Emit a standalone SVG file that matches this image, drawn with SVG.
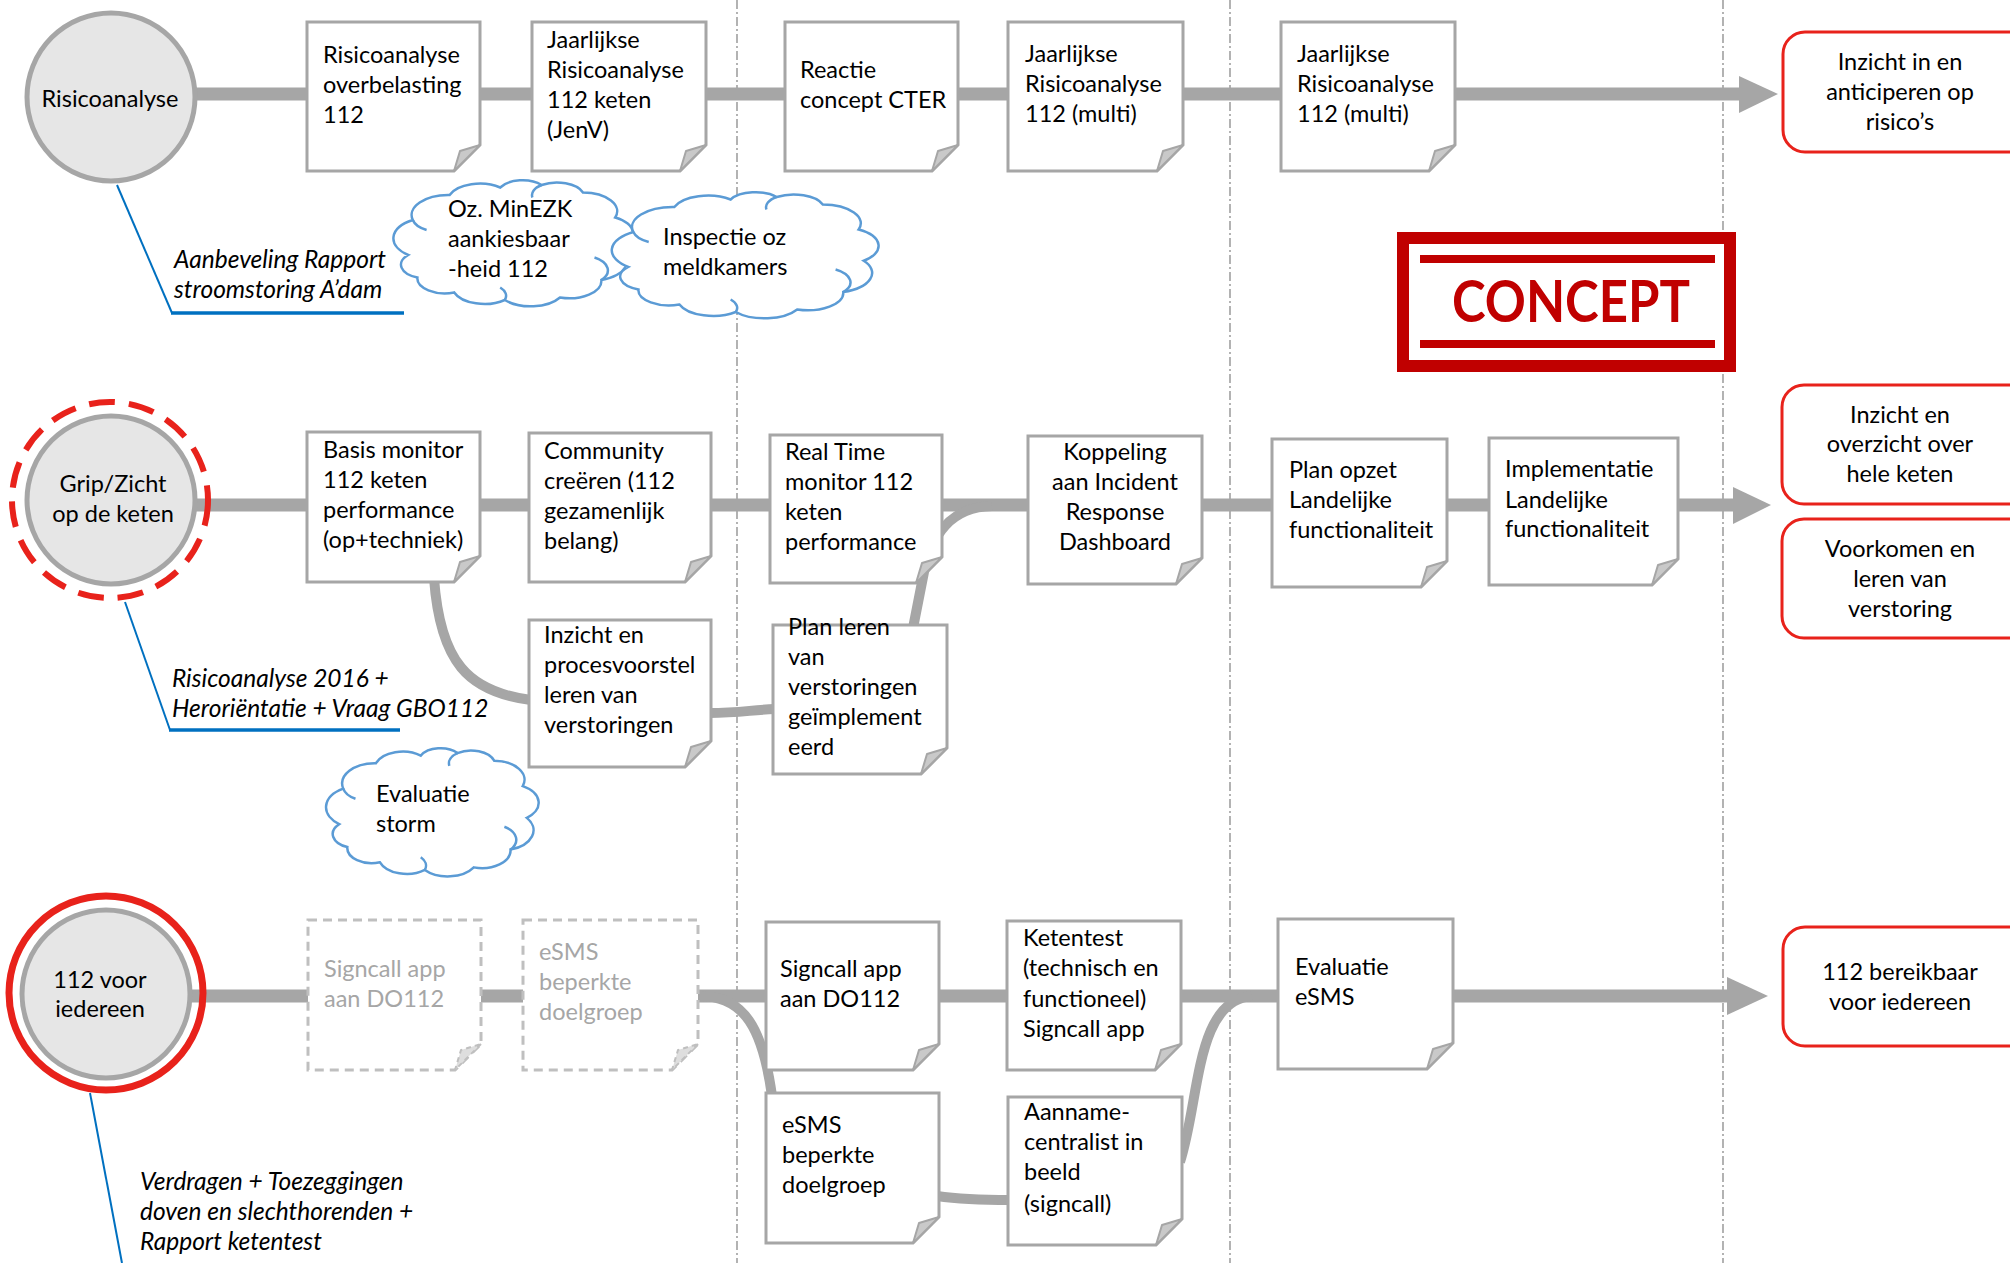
<svg xmlns="http://www.w3.org/2000/svg" xmlns:xlink="http://www.w3.org/1999/xlink" width="2010" height="1263" viewBox="0 0 2010 1263">
<style>
.bg{fill:#fff}
.sep{stroke:#808080;stroke-width:1.2;stroke-dasharray:9 3 2 3;fill:none}
.box{fill:#fff;stroke:#a6a6a6;stroke-width:3}
.fold{fill:#c9c9c9;stroke:#a6a6a6;stroke-width:2;stroke-linejoin:round}
.ghost{fill:#fff;stroke:#bfbfbf;stroke-width:3;stroke-dasharray:9 6}
.gfold{fill:#dedede;stroke:#bfbfbf;stroke-width:2;stroke-dasharray:5 4}
.conn{stroke:#a6a6a6;stroke-width:13;fill:none}
.curve{stroke:#a6a6a6;stroke-width:10;fill:none}
.head{fill:#a6a6a6}
.goal{fill:#fff;stroke:#e8221b;stroke-width:3}
.circ{fill:#e6e6e6;stroke:#a6a6a6;stroke-width:5}
.cloud{fill:#fff;stroke:#5b9bd5;stroke-width:2.5}
.lead{stroke:#0070c0;stroke-width:2;fill:none}
.leadh{stroke:#0070c0;stroke-width:3.5;fill:none}
text{font-family:Lato,"Noto Sans","Liberation Sans",sans-serif;font-size:23.5px;fill:#000}
.c{text-anchor:middle}
.g{fill:#a6a6a6}
.ann{font-style:italic;font-size:24.5px}
.concept{font-weight:700;font-size:58px;fill:#c00000}
</style>
<defs>
<path id="cloudp" vector-effect="non-scaling-stroke" d="M 4 60 A 17 17 0 0 1 6 32 A 16 16 0 0 1 22 12 A 14 14 0 0 1 44 6 A 11 11 0 0 1 62 4 A 12 12 0 0 1 80 10 A 15 15 0 0 1 94 30 A 15 15 0 0 1 96 55 A 16 16 0 0 1 88 80 A 14 14 0 0 1 70 94 A 15 15 0 0 1 46 96 A 14 14 0 0 1 24 90 A 12 12 0 0 1 8 78 A 11 11 0 0 1 4 60 Z"/>
<path id="crease" vector-effect="non-scaling-stroke" fill="none" d="M 85 62 A 12 12 0 0 1 88 80 M 6 32 A 12 12 0 0 0 12 40 M 62 4 A 10 10 0 0 0 58 14 M 46 96 A 10 10 0 0 0 44 86"/>
</defs>
<rect class="bg" x="0" y="0" width="2010" height="1263"/>

<g id="separators">
<line class="sep" x1="737" y1="0" x2="737" y2="1263"/>
<line class="sep" x1="1230" y1="0" x2="1230" y2="1263"/>
<line class="sep" x1="1723" y1="0" x2="1723" y2="1263"/>
</g>

<g id="connectors">
<line class="conn" x1="190" y1="94" x2="1742" y2="94"/>
<polygon class="head" points="1739,76 1778,94 1739,113"/>
<line class="conn" x1="190" y1="505" x2="1736" y2="505"/>
<polygon class="head" points="1733,487 1771,505 1733,524"/>
<line class="conn" x1="190" y1="996" x2="1730" y2="996"/>
<polygon class="head" points="1727,977 1768,996 1727,1015"/>
<path class="curve" d="M 434 578 C 440 662 468 692 531 700"/>
<path class="curve" d="M 709 713 C 740 713 750 710 775 709"/>
<path class="curve" d="M 913 628 L 924 572 C 932 535 950 507 992 506"/>
<path class="curve" d="M 700 996 C 745 996 763 1030 772 1096"/>
<path class="curve" d="M 937 1196 C 965 1200 990 1200 1010 1200"/>
<path class="curve" d="M 1180 1162 C 1200 1100 1195 1000 1252 996"/>
</g>

<g id="leaders">
<polyline class="lead" points="117,185 172,313"/>
<line class="leadh" x1="171" y1="313" x2="404" y2="313"/>
<polyline class="lead" points="125,602 170,730"/>
<line class="leadh" x1="169" y1="730" x2="400" y2="730"/>
<polyline class="lead" points="90,1093 122,1263"/>
</g>

<g id="n-risicoanalyse">
<circle class="circ" cx="111" cy="97" r="84"/>
<text class="c" x="110" y="107">Risicoanalyse</text>
</g>
<g id="n-grip">
<circle class="circ" cx="111" cy="500" r="84"/>
<circle cx="110" cy="500" r="98" fill="none" stroke="#e8221b" stroke-width="6" stroke-dasharray="26 14"/>
<text class="c" x="113" y="492">Grip/Zicht</text>
<text class="c" x="113" y="522">op de keten</text>
</g>
<g id="n-112voor">
<circle class="circ" cx="106" cy="994" r="84"/>
<circle cx="106" cy="993" r="97" fill="none" stroke="#e8221b" stroke-width="7"/>
<text class="c" x="100" y="988">112 voor</text>
<text class="c" x="100" y="1017">iedereen</text>
</g>

<g id="n-t1">
<path class="box" d="M307 22 H480 V145 L454 171 H307 Z"/><path class="fold" d="M480 145 L454 171 L460 151 Z"/>
<text x="323" y="63">Risicoanalyse</text><text x="323" y="93">overbelasting</text><text x="323" y="123">112</text>
</g>
<g id="n-t2">
<path class="box" d="M532 22 H706 V145 L680 171 H532 Z"/><path class="fold" d="M706 145 L680 171 L686 151 Z"/>
<text x="547" y="48">Jaarlijkse</text><text x="547" y="78">Risicoanalyse</text><text x="547" y="108">112 keten</text><text x="547" y="138">(JenV)</text>
</g>
<g id="n-t3">
<path class="box" d="M785 22 H958 V145 L932 171 H785 Z"/><path class="fold" d="M958 145 L932 171 L938 151 Z"/>
<text x="800" y="78">Reactie</text><text x="800" y="108">concept CTER</text>
</g>
<g id="n-t4">
<path class="box" d="M1008 22 H1183 V145 L1157 171 H1008 Z"/><path class="fold" d="M1183 145 L1157 171 L1163 151 Z"/>
<text x="1025" y="62">Jaarlijkse</text><text x="1025" y="92">Risicoanalyse</text><text x="1025" y="122">112 (multi)</text>
</g>
<g id="n-t5">
<path class="box" d="M1281 22 H1455 V145 L1429 171 H1281 Z"/><path class="fold" d="M1455 145 L1429 171 L1435 151 Z"/>
<text x="1297" y="62">Jaarlijkse</text><text x="1297" y="92">Risicoanalyse</text><text x="1297" y="122">112 (multi)</text>
</g>

<g id="n-cloud1">
<use xlink:href="#cloudp" class="cloud" transform="translate(399,180) scale(2.3,1.25)"/>
<use xlink:href="#crease" class="cloud" style="fill:none" transform="translate(399,180) scale(2.3,1.25)"/>
<text x="448" y="217">Oz. MinEZK</text><text x="448" y="247">aankiesbaar</text><text x="448" y="277">-heid 112</text>
</g>
<g id="n-cloud2">
<use xlink:href="#cloudp" class="cloud" transform="translate(618,192) scale(2.56,1.25)"/>
<use xlink:href="#crease" class="cloud" style="fill:none" transform="translate(618,192) scale(2.56,1.25)"/>
<text x="663" y="245">Inspectie oz</text><text x="663" y="275">meldkamers</text>
</g>

<g id="n-concept">
<rect x="1403" y="238" width="327" height="128" fill="#fff" stroke="#c00000" stroke-width="12"/>
<rect x="1420" y="255" width="295" height="8" fill="#c00000"/>
<rect x="1420" y="340" width="295" height="8" fill="#c00000"/>
<text class="concept c" x="1571" y="322" textLength="238" lengthAdjust="spacingAndGlyphs">CONCEPT</text>
</g>

<g id="n-a1">
<text class="ann" x="174" y="268">Aanbeveling Rapport</text>
<text class="ann" x="174" y="298">stroomstoring A’dam</text>
</g>
<g id="n-a2">
<text class="ann" x="172" y="687">Risicoanalyse 2016 +</text>
<text class="ann" x="172" y="717">Heroriëntatie + Vraag GBO112</text>
</g>
<g id="n-a3">
<text class="ann" x="140" y="1190">Verdragen + Toezeggingen</text>
<text class="ann" x="140" y="1220">doven en slechthorenden +</text>
<text class="ann" x="140" y="1250">Rapport ketentest</text>
</g>

<g id="n-goal1">
<rect class="goal" x="1783" y="32" width="270" height="120" rx="22"/>
<text class="c" x="1900" y="70">Inzicht in en</text><text class="c" x="1900" y="100">anticiperen op</text><text class="c" x="1900" y="130">risico’s</text>
</g>
<g id="n-goal2">
<rect class="goal" x="1782" y="385" width="270" height="119" rx="22"/>
<text class="c" x="1900" y="423">Inzicht en</text><text class="c" x="1900" y="452">overzicht over</text><text class="c" x="1900" y="482">hele keten</text>
</g>
<g id="n-goal3">
<rect class="goal" x="1782" y="519" width="270" height="119" rx="22"/>
<text class="c" x="1900" y="557">Voorkomen en</text><text class="c" x="1900" y="587">leren van</text><text class="c" x="1900" y="617">verstoring</text>
</g>
<g id="n-goal4">
<rect class="goal" x="1783" y="927" width="270" height="119" rx="22"/>
<text class="c" x="1900" y="980">112 bereikbaar</text><text class="c" x="1900" y="1010">voor iedereen</text>
</g>

<g id="n-m1">
<path class="box" d="M307 432 H480 V556 L454 582 H307 Z"/><path class="fold" d="M480 556 L454 582 L460 562 Z"/>
<text x="323" y="458">Basis monitor</text><text x="323" y="488">112 keten</text><text x="323" y="518">performance</text><text x="323" y="548">(op+techniek)</text>
</g>
<g id="n-m2">
<path class="box" d="M529 433 H711 V556 L685 582 H529 Z"/><path class="fold" d="M711 556 L685 582 L691 562 Z"/>
<text x="544" y="459">Community</text><text x="544" y="489">creëren (112</text><text x="544" y="519">gezamenlijk</text><text x="544" y="549">belang)</text>
</g>
<g id="n-m3">
<path class="box" d="M770 435 H942 V557 L916 583 H770 Z"/><path class="fold" d="M942 557 L916 583 L922 563 Z"/>
<text x="785" y="460">Real Time</text><text x="785" y="490">monitor 112</text><text x="785" y="520">keten</text><text x="785" y="550">performance</text>
</g>
<g id="n-m4">
<path class="box" d="M1028 436 H1202 V558 L1176 584 H1028 Z"/><path class="fold" d="M1202 558 L1176 584 L1182 564 Z"/>
<text class="c" x="1115" y="460">Koppeling</text><text class="c" x="1115" y="490">aan Incident</text><text class="c" x="1115" y="520">Response</text><text class="c" x="1115" y="550">Dashboard</text>
</g>
<g id="n-m5">
<path class="box" d="M1272 439 H1447 V561 L1421 587 H1272 Z"/><path class="fold" d="M1447 561 L1421 587 L1427 567 Z"/>
<text x="1289" y="478">Plan opzet</text><text x="1289" y="508">Landelijke</text><text x="1289" y="538">functionaliteit</text>
</g>
<g id="n-m6">
<path class="box" d="M1489 438 H1678 V559 L1652 585 H1489 Z"/><path class="fold" d="M1678 559 L1652 585 L1658 565 Z"/>
<text x="1505" y="477">Implementatie</text><text x="1505" y="508">Landelijke</text><text x="1505" y="537">functionaliteit</text>
</g>
<g id="n-l1">
<path class="box" d="M529 620 H711 V741 L685 767 H529 Z"/><path class="fold" d="M711 741 L685 767 L691 747 Z"/>
<text x="544" y="643">Inzicht en</text><text x="544" y="673">procesvoorstel</text><text x="544" y="703">leren van</text><text x="544" y="733">verstoringen</text>
</g>
<g id="n-l2">
<path class="box" d="M773 625 H947 V748 L921 774 H773 Z"/><path class="fold" d="M947 748 L921 774 L927 754 Z"/>
<text x="788" y="635">Plan leren</text><text x="788" y="665">van</text><text x="788" y="695">verstoringen</text><text x="788" y="725">geïmplement</text><text x="788" y="755">eerd</text>
</g>
<g id="n-cloud3">
<use xlink:href="#cloudp" class="cloud" transform="translate(331,748) scale(2.04,1.27)"/>
<use xlink:href="#crease" class="cloud" style="fill:none" transform="translate(331,748) scale(2.04,1.27)"/>
<text x="376" y="802">Evaluatie</text><text x="376" y="832">storm</text>
</g>

<g id="n-g1">
<path class="ghost" d="M308 920 H481 V1044 L455 1070 H308 Z"/><path class="gfold" d="M481 1044 L455 1070 L461 1050 Z"/>
<text class="g" x="324" y="977">Signcall app</text><text class="g" x="324" y="1007">aan DO112</text>
</g>
<g id="n-g2">
<path class="ghost" d="M523 920 H698 V1044 L672 1070 H523 Z"/><path class="gfold" d="M698 1044 L672 1070 L678 1050 Z"/>
<text class="g" x="539" y="960">eSMS</text><text class="g" x="539" y="990">beperkte</text><text class="g" x="539" y="1020">doelgroep</text>
</g>
<g id="n-s1">
<path class="box" d="M766 922 H939 V1044 L913 1070 H766 Z"/><path class="fold" d="M939 1044 L913 1070 L919 1050 Z"/>
<text x="780" y="977">Signcall app</text><text x="780" y="1007">aan DO112</text>
</g>
<g id="n-s2">
<path class="box" d="M1007 921 H1181 V1044 L1155 1070 H1007 Z"/><path class="fold" d="M1181 1044 L1155 1070 L1161 1050 Z"/>
<text x="1023" y="946">Ketentest</text><text x="1023" y="976">(technisch en</text><text x="1023" y="1007">functioneel)</text><text x="1023" y="1037">Signcall app</text>
</g>
<g id="n-s3">
<path class="box" d="M1278 919 H1453 V1043 L1427 1069 H1278 Z"/><path class="fold" d="M1453 1043 L1427 1069 L1433 1049 Z"/>
<text x="1295" y="975">Evaluatie</text><text x="1295" y="1005">eSMS</text>
</g>
<g id="n-s4">
<path class="box" d="M766 1093 H939 V1217 L913 1243 H766 Z"/><path class="fold" d="M939 1217 L913 1243 L919 1223 Z"/>
<text x="782" y="1133">eSMS</text><text x="782" y="1163">beperkte</text><text x="782" y="1193">doelgroep</text>
</g>
<g id="n-s5">
<path class="box" d="M1008 1097 H1182 V1219 L1156 1245 H1008 Z"/><path class="fold" d="M1182 1219 L1156 1245 L1162 1225 Z"/>
<text x="1024" y="1120">Aanname-</text><text x="1024" y="1150">centralist in</text><text x="1024" y="1180">beeld</text><text x="1024" y="1212">(signcall)</text>
</g>
</svg>
